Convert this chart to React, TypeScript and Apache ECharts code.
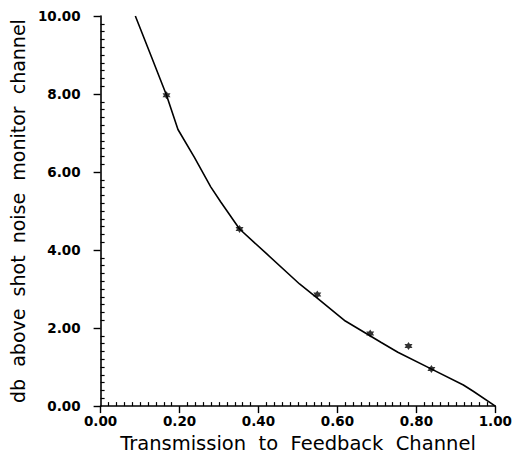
import React, { useEffect, useRef } from "react";
import * as echarts from "echarts";

const curveX = [0.088, 0.127, 0.167, 0.196, 0.238, 0.279, 0.304, 0.352, 0.421, 0.504, 0.545, 0.62, 0.711, 0.753, 0.836, 0.919, 0.944, 1.0];
const curveY = [10.0, 9.0, 7.97, 7.09, 6.37, 5.62, 5.24, 4.54, 3.9, 3.13, 2.8, 2.18, 1.63, 1.38, 0.96, 0.54, 0.38, 0.0];
const starX = [0.167, 0.352, 0.549, 0.683, 0.78, 0.838];
const starY = [7.97, 4.54, 2.86, 1.86, 1.54, 0.95];

const xTitle = "Transmission  to  Feedback  Channel";
const yTitle = "db  above  shot  noise  monitor  channel";

const STAR =
  "path://M0,-10 L2.9,-5 L8.7,-5 L5.8,0 L8.7,5 L2.9,5 L0,10 L-2.9,5 L-8.7,5 L-5.8,0 L-8.7,-5 L-2.9,-5 Z";

const FONT = "DejaVu Sans";

export default function App() {
  const ref = useRef<HTMLDivElement>(null);
  useEffect(() => {
    if (!ref.current) return;
    const chart = echarts.init(ref.current, undefined, { renderer: "svg" });
    const axisCommon = {
      axisLine: { lineStyle: { color: "#000", width: 1.6 } },
      axisTick: { show: true, inside: false, length: 7, lineStyle: { color: "#000", width: 1.4 } },
      minorTick: { show: true, splitNumber: 10, length: -4, lineStyle: { color: "#000", width: 1.2 } },
      splitLine: { show: false },
      minorSplitLine: { show: false },
    };
    const labelCommon = {
      fontFamily: FONT,
      fontSize: 13.5,
      fontWeight: "bold",
      color: "#000",
      formatter: (v: number) => v.toFixed(2),
    };
    chart.setOption({
      animation: false,
      backgroundColor: "#fff",
      grid: { left: 98, right: 15, top: 16, bottom: 45 },
      xAxis: {
        type: "value",
        min: 0,
        max: 1,
        interval: 0.2,
        name: xTitle,
        nameLocation: "middle",
        nameGap: 21,
        nameTextStyle: { fontFamily: FONT, fontSize: 19.5, color: "#000" },
        ...axisCommon,
        axisLabel: { margin: 8, ...labelCommon },
      },
      yAxis: {
        type: "value",
        min: 0,
        max: 10,
        interval: 2,
        name: yTitle,
        nameLocation: "middle",
        nameGap: 58,
        nameTextStyle: { fontFamily: FONT, fontSize: 19, color: "#000" },
        ...axisCommon,
        axisLabel: { margin: 20, ...labelCommon },
      },
      series: [
        {
          type: "line",
          data: curveX.map((x, i) => [x, curveY[i]]),
          showSymbol: false,
          lineStyle: { color: "#000", width: 1.6 },
          silent: true,
        },
        {
          type: "scatter",
          data: starX.map((x, i) => [x, starY[i]]),
          symbol: STAR,
          symbolSize: 8,
          itemStyle: { color: "#000" },
        },
      ],
    });
    return () => chart.dispose();
  }, []);
  return <div ref={ref} style={{ width: 515, height: 458, position: "absolute", left: 0, top: 0 }} />;
}
